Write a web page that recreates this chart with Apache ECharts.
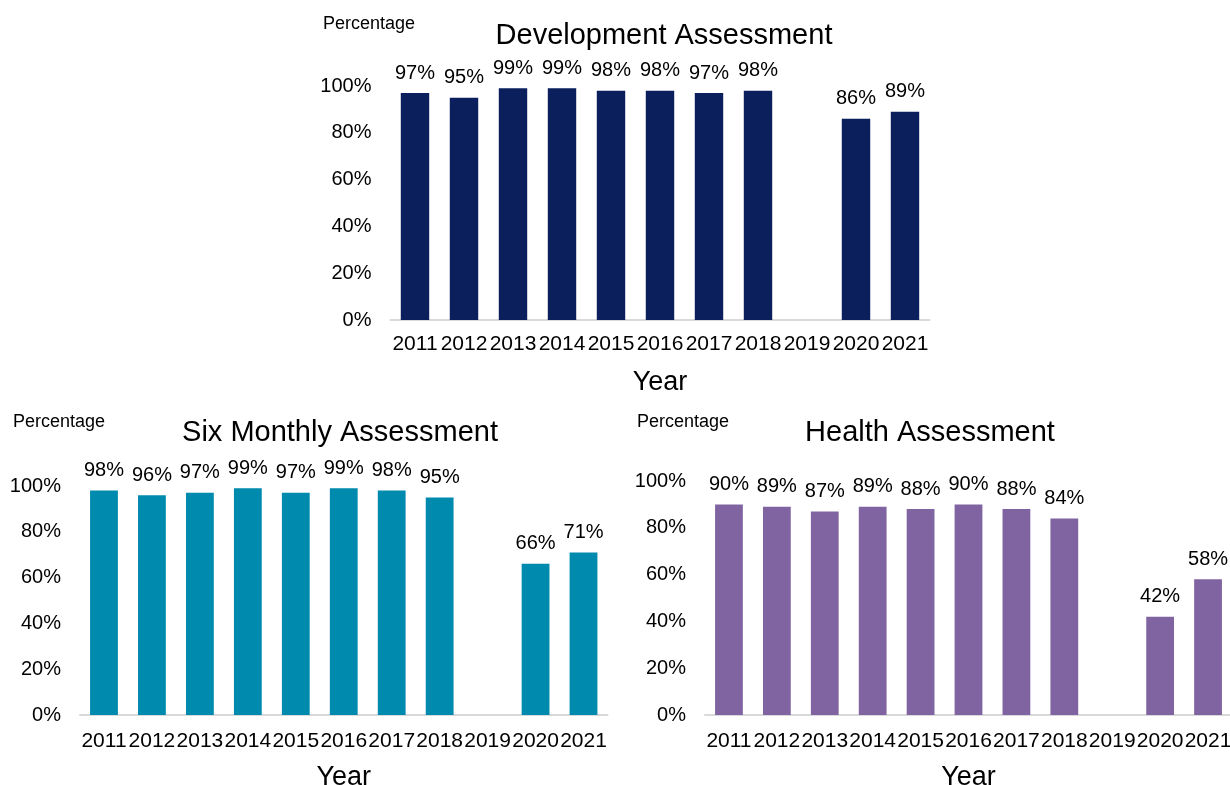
<!DOCTYPE html>
<html>
<head>
<meta charset="utf-8">
<script src="https://cdn.jsdelivr.net/npm/echarts@6/dist/echarts.min.js"></script>
<style>
  html, body { margin: 0; padding: 0; background: #fff; }
  #chart { width: 1230px; height: 785px; }
</style>
</head>
<body>
<div id="chart"></div>
<script>
const years = ["2011", "2012", "2013", "2014", "2015", "2016", "2017", "2018", "2019", "2020", "2021"];
const development = [97, 95, 99, 99, 98, 98, 97, 98, null, 86, 89];
const sixMonthly = [98, 96, 97, 99, 97, 99, 98, 95, null, 66, 71];
const health = [90, 89, 87, 89, 88, 90, 88, 84, null, 42, 58];
const yTicks = { min: 0, max: 100, interval: 20 };

const font = "Liberation Sans";

// one panel per chart: grid box, title spot, colour
const panels = [
  { name: "Development Assessment", data: development, color: "#0a1f5c",
    grid: { left: 390.5, top: 86, width: 539, height: 234 },
    title: [664, 21], pct: [323, 15], labelMargin: 14, yearGap: 49 },
  { name: "Six Monthly Assessment", data: sixMonthly, color: "#008aad",
    grid: { left: 80, top: 486, width: 527.5, height: 229 },
    title: [340, 418], pct: [13, 413], labelMargin: 16, yearGap: 49 },
  { name: "Health Assessment", data: health, color: "#8064a2",
    grid: { left: 705, top: 481, width: 527, height: 234 },
    title: [930, 418], pct: [637, 413], labelMargin: 16, yearGap: 49 },
];

const chart = echarts.init(document.getElementById("chart"));

const titles = [];
panels.forEach(p => {
  titles.push({
    text: p.name, left: p.title[0], top: p.title[1], textAlign: "center", padding: 0,
    textStyle: { fontFamily: font, fontSize: 29, fontWeight: "normal", color: "#000" },
  });
  titles.push({
    text: "Percentage", left: p.pct[0], top: p.pct[1], padding: 0,
    textStyle: { fontFamily: font, fontSize: 18, fontWeight: "normal", color: "#000" },
  });
});

chart.setOption({
  animation: false,
  title: titles,
  // keep the grids where they are, even if labels spill past the edge
  grid: panels.map(p => Object.assign({ outerBoundsMode: "none", containLabel: false }, p.grid)),
  xAxis: panels.map((p, i) => ({
    type: "category",
    gridIndex: i,
    data: years,
    name: "Year",
    nameLocation: "middle",
    nameGap: p.yearGap,
    nameTextStyle: { fontFamily: font, fontSize: 27, color: "#000" },
    axisLine: { lineStyle: { color: "#d9d9d9", width: 2 } },
    axisTick: { show: false },
    axisLabel: { interval: 0, margin: p.labelMargin, fontFamily: font, fontSize: 21, color: "#000" },
  })),
  yAxis: panels.map((p, i) => ({
    type: "value",
    gridIndex: i,
    min: yTicks.min,
    max: yTicks.max,
    interval: yTicks.interval,
    axisLine: { show: false },
    axisTick: { show: false },
    splitLine: { show: false },
    axisLabel: { formatter: "{value}%", margin: 19, fontFamily: font, fontSize: 20, color: "#000" },
  })),
  series: panels.map((p, i) => ({
    type: "bar",
    name: p.name,
    xAxisIndex: i,
    yAxisIndex: i,
    data: p.data,
    barWidth: "58%",
    itemStyle: { color: p.color },
    label: {
      show: true, position: "top", distance: 10, formatter: "{c}%",
      fontFamily: font, fontSize: 20, color: "#000",
    },
  })),
});
</script>
</body>
</html>
